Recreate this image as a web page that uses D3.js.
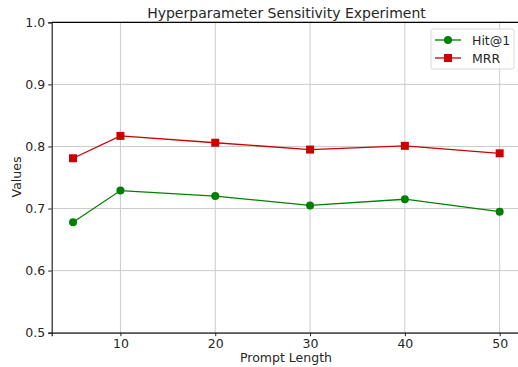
<!DOCTYPE html>
<html>
<head>
<meta charset="utf-8">
<script src="https://cdn.jsdelivr.net/npm/d3@7"></script>
<style>
  body { margin: 0; background: #fff; }
  text { font-family: "DejaVu Sans", sans-serif; fill: #262626; }
</style>
</head>
<body>
<svg id="chart" width="518" height="367"></svg>
<script>
// data
const promptLengths = [5, 10, 20, 30, 40, 50];
const hit1 = [0.678, 0.729, 0.720, 0.705, 0.715, 0.695];
const mrr = [0.781, 0.817, 0.806, 0.795, 0.801, 0.789];
const xTicks = [10, 20, 30, 40, 50];
const yTicks = [0.5, 0.6, 0.7, 0.8, 0.9, 1.0];
const seriesNames = ["Hit@1", "MRR"];

const svg = d3.select("#chart");
const plotLeft = 51.7, plotTop = 22.3, plotRight = 521, plotBottom = 332.7;

var x = d3.scaleLinear().domain([2.75, 52.25]).range([plotLeft, plotRight]);
var y = d3.scaleLinear().domain([0.5, 1.0]).range([plotBottom, plotTop]);

// grid
svg.append("g").selectAll("line").data(xTicks).join("line")
    .attr("x1", d => x(d)).attr("x2", d => x(d))
    .attr("y1", plotTop).attr("y2", plotBottom)
    .attr("stroke", "#cbcbcb").attr("stroke-width", 1);
svg.append("g").selectAll("line").data(yTicks).join("line")
    .attr("x1", plotLeft).attr("x2", plotRight)
    .attr("y1", d => y(d)).attr("y2", d => y(d))
    .attr("stroke", "#cbcbcb").attr("stroke-width", 1);

// axes
var xAxis = svg.append("g")
    .attr("transform", "translate(0," + plotBottom + ")")
    .call(d3.axisBottom(x).tickValues(xTicks).tickSize(3.5).tickPadding(3).tickFormat(d3.format("d")));
var yAxis = svg.append("g")
    .attr("transform", "translate(" + plotLeft + ",0)")
    .call(d3.axisLeft(y).tickValues(yTicks).tickSize(3.5).tickPadding(3).tickFormat(d3.format(".1f")));
[xAxis, yAxis].forEach(function (a) {
    a.select(".domain").attr("stroke", "#222").attr("stroke-width", 1.2);
    a.selectAll(".tick line").attr("stroke", "#222");
    a.selectAll("text").style("font-size", "12.5px").attr("fill", "#262626")
        .style("font-family", "'DejaVu Sans', sans-serif");
});
// top spine
svg.append("line").attr("x1", plotLeft).attr("x2", plotRight)
    .attr("y1", plotTop).attr("y2", plotTop).attr("stroke", "#000").attr("stroke-width", 1.2);

// lines
var line = d3.line().x((d, i) => x(promptLengths[i])).y(d => y(d));
svg.append("path").datum(hit1).attr("d", line)
    .attr("fill", "none").attr("stroke", "#008000").attr("stroke-width", 1.3);
svg.append("path").datum(mrr).attr("d", line)
    .attr("fill", "none").attr("stroke", "#cc0000").attr("stroke-width", 1.3);

svg.append("g").selectAll("circle").data(hit1).join("circle")
    .attr("cx", (d, i) => x(promptLengths[i])).attr("cy", d => y(d))
    .attr("r", 4).attr("fill", "#008000");
svg.append("g").selectAll("rect").data(mrr).join("rect")
    .attr("x", (d, i) => x(promptLengths[i]) - 4).attr("y", d => y(d) - 4)
    .attr("width", 8).attr("height", 8).attr("fill", "#cc0000");

// labels
svg.append("text").attr("x", 286.5).attr("y", 18).attr("text-anchor", "middle")
    .style("font-size", "14px").text("Hyperparameter Sensitivity Experiment");
svg.append("text").attr("x", 286).attr("y", 362).attr("text-anchor", "middle")
    .style("font-size", "12.5px").text("Prompt Length");
svg.append("text").attr("transform", "translate(21,177) rotate(-90)")
    .attr("text-anchor", "middle").style("font-size", "12.5px").text("Values");

// legend
var lg = svg.append("g").attr("transform", "translate(431,29)");
lg.append("rect").attr("width", 83).attr("height", 40).attr("rx", 2)
    .attr("fill", "#fff").attr("fill-opacity", 0.8).attr("stroke", "#d9d9d9");
var colors = ["#008000", "#cc0000"];
seriesNames.forEach(function (name, i) {
    var g = lg.append("g").attr("transform", "translate(0," + (11 + i * 18) + ")");
    g.append("line").attr("x1", 4).attr("x2", 30).attr("stroke", colors[i]).attr("stroke-width", 1.3);
    if (i == 0) g.append("circle").attr("cx", 17).attr("r", 4).attr("fill", colors[i]);
    else g.append("rect").attr("x", 13).attr("y", -4).attr("width", 8).attr("height", 8).attr("fill", colors[i]);
    g.append("text").attr("x", 41).attr("y", 4.5).style("font-size", "12.5px").text(name);
});
</script>
</body>
</html>
